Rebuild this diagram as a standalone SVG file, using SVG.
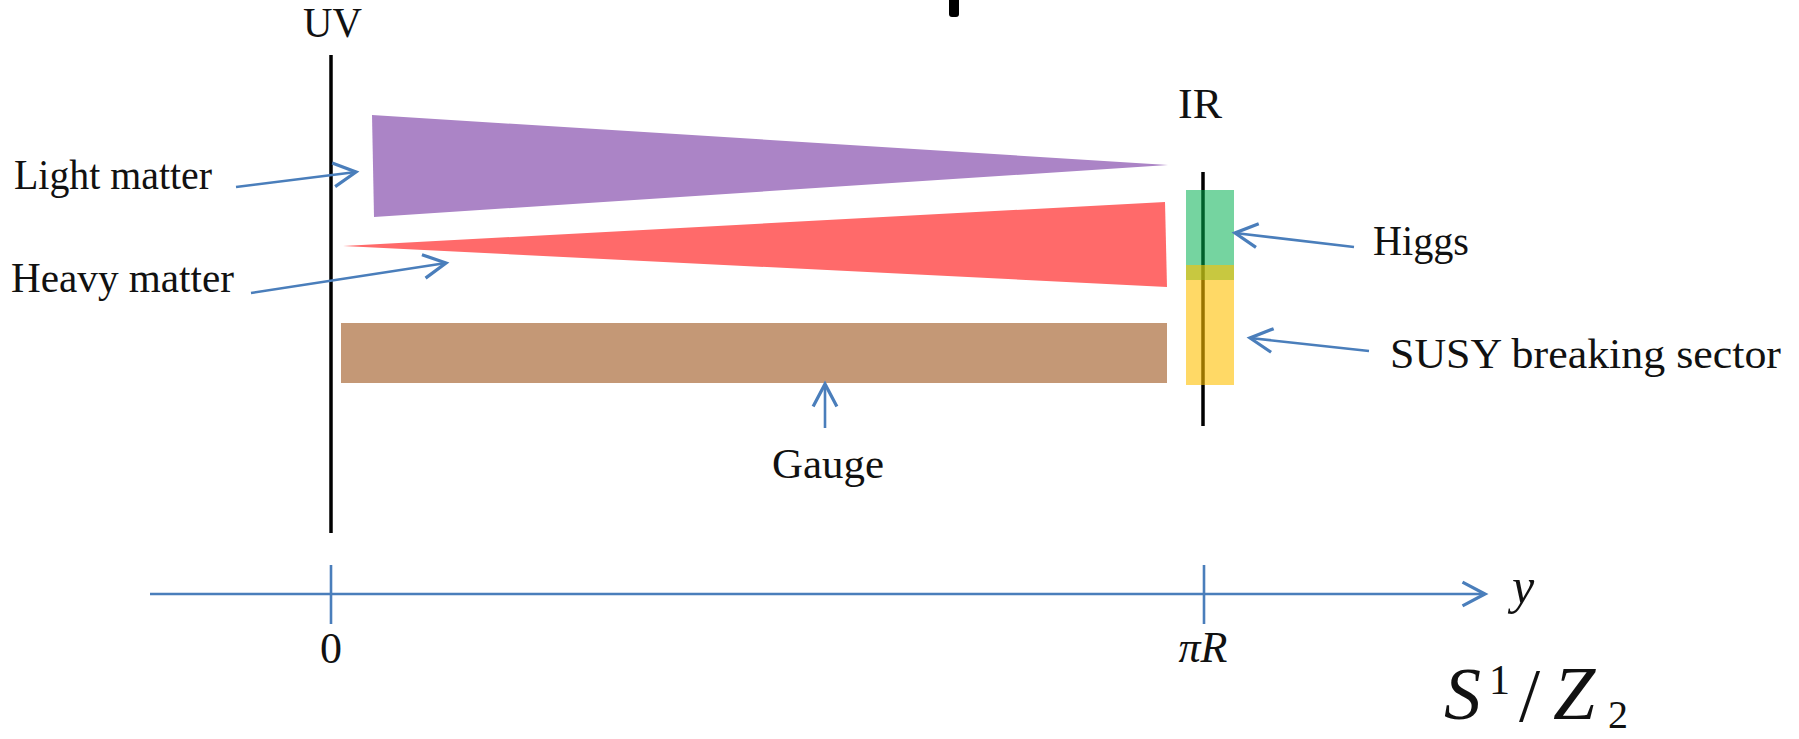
<svg xmlns="http://www.w3.org/2000/svg" width="1799" height="739" viewBox="0 0 1799 739">
<style>
  .lbl { font-family: "Liberation Serif", "DejaVu Serif", serif; font-size: 42px; fill: #111; }
  .math { font-family: "Liberation Serif", "DejaVu Serif", serif; fill: #111; }
  .it { font-style: italic; }
  .conn { stroke: #4a7ebb; stroke-width: 2.6; fill: none; marker-end: url(#open); }
  .wall { stroke: #000; stroke-width: 3.5; }
</style>
<defs>
  <marker id="open" markerUnits="userSpaceOnUse" markerWidth="30" markerHeight="30" refX="0" refY="0" orient="auto" overflow="visible" viewBox="-20 -12 22 24">
    <path d="M -18 -9.5 L 0 0 L -18 9.5" fill="none" stroke="#4a7ebb" stroke-width="2.6" stroke-linejoin="miter"/>
  </marker>
</defs>
<rect width="1799" height="739" fill="#fff"/>

<rect x="949" y="-5" width="10" height="22" rx="3" fill="#000"/>

<g id="uv">
  <line class="wall" x1="331" y1="55" x2="331" y2="533"/>
  <text class="lbl" x="303" y="37" textLength="59" lengthAdjust="spacingAndGlyphs">UV</text>
</g>

<g id="light-matter">
  <polygon points="372,115 1168,165 374,217" fill="#ab84c6"/>
  <text class="lbl" x="14" y="189" textLength="198" lengthAdjust="spacingAndGlyphs">Light matter</text>
</g>

<g id="heavy-matter">
  <polygon points="343,246 1165,202 1167,287" fill="#ff6a6a"/>
  <text class="lbl" x="11" y="292" textLength="223" lengthAdjust="spacingAndGlyphs">Heavy matter</text>
</g>

<g id="gauge">
  <rect x="341" y="323" width="826" height="60" fill="#c49876"/>
  <text class="lbl" x="772" y="478" textLength="112" lengthAdjust="spacingAndGlyphs">Gauge</text>
</g>

<g id="ir">
  <line class="wall" x1="1203" y1="172" x2="1203" y2="426" stroke-width="3"/>
  <text class="lbl" x="1178" y="118" textLength="44" lengthAdjust="spacingAndGlyphs">IR</text>
</g>

<g id="higgs">
  <rect x="1186" y="190" width="48" height="90" fill="#00b050" fill-opacity="0.54"/>
  <text class="lbl" x="1373" y="255" textLength="96" lengthAdjust="spacingAndGlyphs">Higgs</text>
</g>

<g id="susy">
  <rect x="1186" y="265" width="48" height="120" fill="#ffc000" fill-opacity="0.6"/>
  <text class="lbl" x="1390" y="368" textLength="391" lengthAdjust="spacingAndGlyphs">SUSY breaking sector</text>
</g>

<g id="connectors">
  <line class="conn" x1="236" y1="187" x2="356" y2="172"/>
  <line class="conn" x1="251" y1="293" x2="446" y2="263"/>
  <line class="conn" x1="825" y1="428" x2="825" y2="384"/>
  <line class="conn" x1="1354" y1="247" x2="1235" y2="233"/>
  <line class="conn" x1="1369" y1="351" x2="1250" y2="338"/>
</g>

<g id="axis">
  <line class="conn" x1="150" y1="594" x2="1485" y2="594"/>
  <line x1="331" y1="565" x2="331" y2="624" stroke="#4a7ebb" stroke-width="2.6"/>
  <line x1="1204" y1="565" x2="1204" y2="624" stroke="#4a7ebb" stroke-width="2.6"/>
  <text class="math" font-size="44" x="331" y="663" text-anchor="middle">0</text>
  <text class="math it" font-size="44" x="1203" y="662" text-anchor="middle">πR</text>
  <text class="math it" font-size="50" x="1512" y="603">y</text>
</g>

<g id="orbifold">
  <text class="math" font-size="74"><tspan class="it" x="1444" y="719">S</tspan><tspan x="1489" y="694" font-size="42">1</tspan><tspan x="1519" y="721" font-size="76">/</tspan><tspan class="it" x="1553" y="719" font-size="76">Z</tspan><tspan x="1608" y="728" font-size="40">2</tspan></text>
</g>
</svg>
